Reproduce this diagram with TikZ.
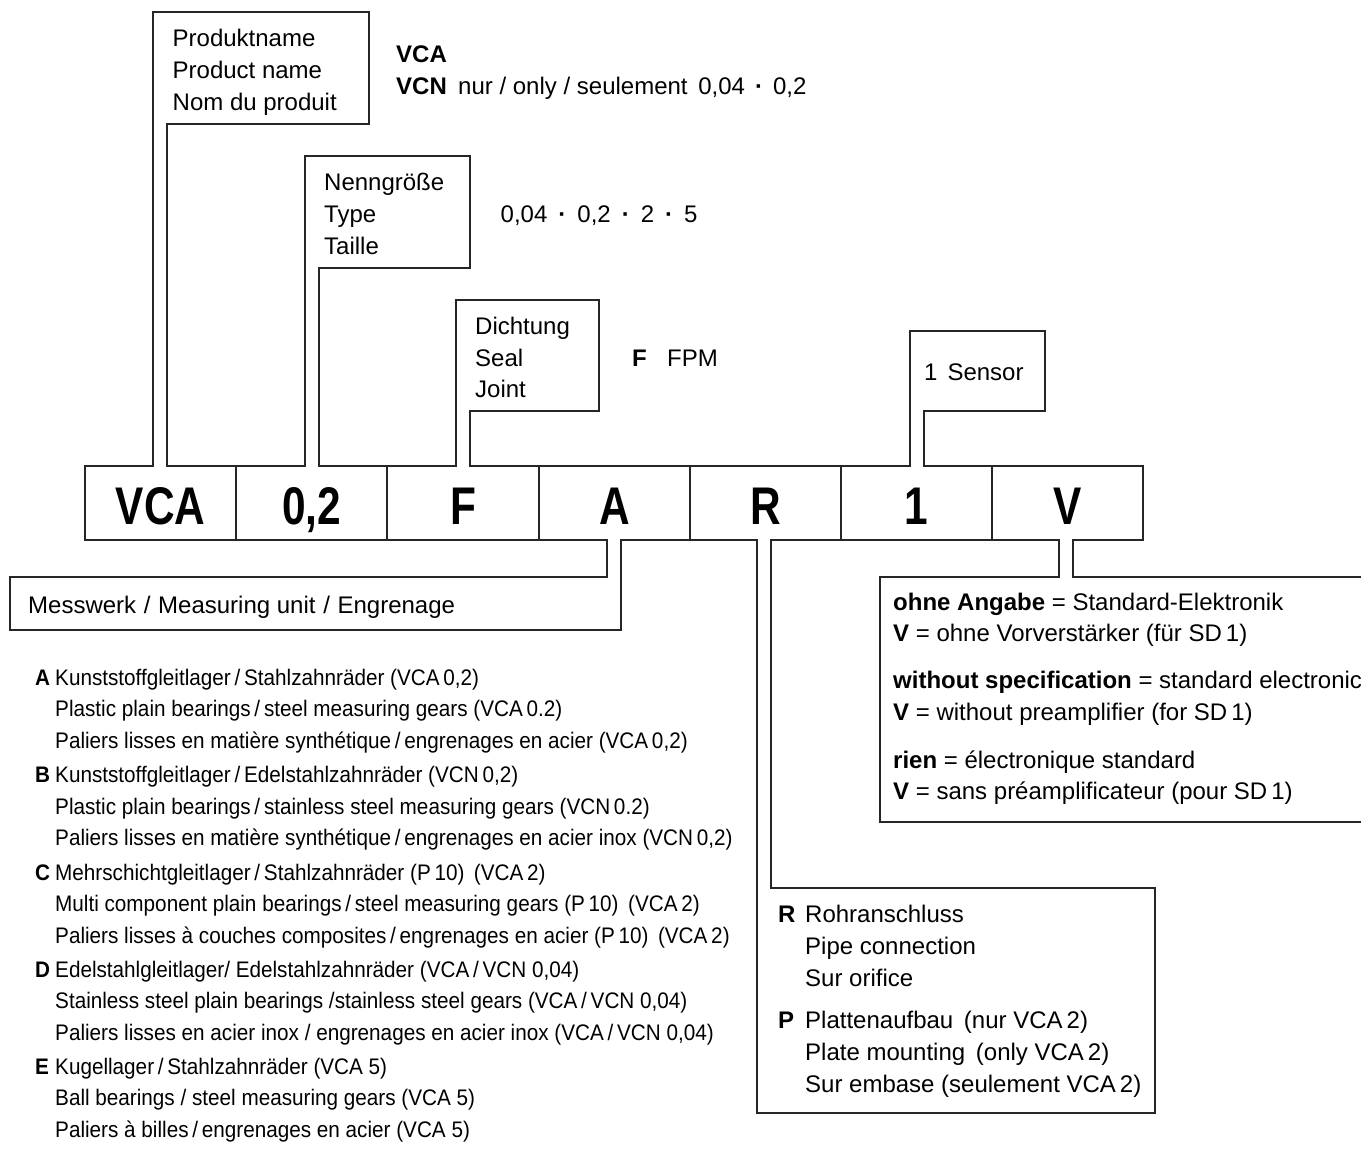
\documentclass[tikz,border=0pt]{standalone}
\usepackage{fontspec}
\setmainfont{Liberation Sans}
\newfontfamily\condfont[FakeStretch=0.92]{Liberation Sans}
\newfontfamily\boxfont[FakeStretch=0.8]{Liberation Sans}
\tikzset{
  outline/.style={draw=black!85, line width=1.3pt, line join=miter},
  txt/.style={anchor=base west, inner sep=0pt, font=\fontsize{24}{31}\selectfont},
  ltxt/.style={anchor=base west, inner sep=0pt, font=\condfont\fontsize{22.5}{30}\selectfont},
  codebox/.style={anchor=base, inner sep=0pt, font=\boxfont\bfseries\fontsize{53}{53}\selectfont},
}
\begin{document}
\begin{tikzpicture}[x=1pt,y=-1pt]
\useasboundingbox (0,0) rectangle (1361,1164);
% outline of code row with all callouts
\draw[outline] (85,466) -- (153,466) -- (153,12) -- (369,12) -- (369,124) -- (167,124) -- (167,466)
  -- (305,466) -- (305,156) -- (470,156) -- (470,268) -- (319,268) -- (319,466)
  -- (456,466) -- (456,300) -- (599,300) -- (599,411) -- (470,411) -- (470,466)
  -- (910,466) -- (910,331) -- (1045,331) -- (1045,411) -- (924,411) -- (924,466)
  -- (1143,466) -- (1143,540) -- (1073,540) -- (1073,577) -- (1375,577) -- (1375,822)
  -- (880,822) -- (880,577) -- (1059,577) -- (1059,540)
  -- (771,540) -- (771,888) -- (1155,888) -- (1155,1113) -- (757,1113) -- (757,540)
  -- (621,540) -- (621,630) -- (10,630) -- (10,577) -- (607,577) -- (607,540)
  -- (85,540) -- cycle;
\foreach \x/\n in {236/d1,387/d2,539/d3,690/d4,841/d5,992/d6}{
  \coordinate (\n t) at (\x,466); \coordinate (\n b) at (\x,540);
  \draw[outline] (\n t) -- (\n b);
}
% code letters
\node[codebox] (cVCA) at (160.5,524) {VCA};
\node[codebox] (cSize) at (311.5,524) {0,2};
\node[codebox] (cSeal) at (463,524) {F};
\node[codebox] (cUnit) at (614.5,524) {A};
\node[codebox] (cConn) at (765.5,524) {R};
\node[codebox] (cSens) at (916.5,524) {1};
\node[codebox] (cElec) at (1067.5,524) {V};
% product name
\node[txt] (pn1) at (172.5,46.5) {Produktname};
\node[txt] (pn2) at (172.5,78.5) {Product name};
\node[txt] (pn3) at (172.5,110.5) {Nom du produit};
\node[txt] (pv1) at (396,62.5) {\bfseries VCA};
\node[txt] (pv2) at (396,95) {\bfseries VCN};
\node[txt] (pv3) at (458,95) {nur / only / seulement \hspace{4pt}0,04\hspace{10pt}{\bfseries ·}\hspace{10pt}0,2};
% size
\node[txt] (sz1) at (324,190) {Nenngröße};
\node[txt] (sz2) at (324,222) {Type};
\node[txt] (sz3) at (324,254) {Taille};
\node[txt] (szv) at (500.5,222) {0,04\hspace{11pt}{\bfseries ·}\hspace{11pt}0,2\hspace{11pt}{\bfseries ·}\hspace{11pt}2\hspace{11pt}{\bfseries ·}\hspace{11pt}5};
% seal
\node[txt] (se1) at (475,334) {Dichtung};
\node[txt] (se2) at (475,366) {Seal};
\node[txt] (se3) at (475,397) {Joint};
\node[txt] (sev) at (632,366) {\bfseries F};
\node[txt] (sew) at (667,366) {FPM};
% sensor
\node[txt] (sn1) at (924,380) {1\hspace{10pt}Sensor};
% measuring unit
\node[txt] (mu) at (28,613) {Messwerk\hspace{1pt} / \hspace{1pt}Measuring unit\hspace{1pt} / \hspace{1pt}Engrenage};
% electronics
\node[txt] (el1) at (893,610) {\textbf{ohne Angabe} = Standard-Elektronik};
\node[txt] (el2) at (893,641) {\textbf{V} = ohne Vorverstärker (für SD\,1)};
\node[txt] (el3) at (893,688) {\textbf{without specification} = standard electronic};
\node[txt] (el4) at (893,720) {\textbf{V} = without preamplifier (for SD\,1)};
\node[txt] (el5) at (893,768) {\textbf{rien} = électronique standard};
\node[txt] (el6) at (893,799) {\textbf{V} = sans préamplificateur (pour SD\,1)};
% connection
\node[txt] (cnR) at (778,922) {\bfseries R};
\node[txt] (cn1) at (805,922) {Rohranschluss};
\node[txt] (cn2) at (805,954) {Pipe connection};
\node[txt] (cn3) at (805,986) {Sur orifice};
\node[txt] (cnP) at (778,1028) {\bfseries P};
\node[txt] (cn4) at (805,1028) {Plattenaufbau \,(nur VCA\,2)};
\node[txt] (cn5) at (805,1060) {Plate mounting \,(only VCA\,2)};
\node[txt] (cn6) at (805,1092) {Sur embase (seulement VCA\,2)};
% list
\node[ltxt] (lA) at (35,685) {\bfseries A};
\node[ltxt] (lA1) at (55,685) {Kunststoffgleitlager\,/\,Stahlzahnräder (VCA\,0,2)};
\node[ltxt] (lA2) at (55,716) {Plastic plain bearings\,/\,steel measuring gears (VCA\,0.2)};
\node[ltxt] (lA3) at (55,748) {Paliers lisses en matière synthétique\,/\,engrenages en acier (VCA\,0,2)};
\node[ltxt] (lB) at (35,782) {\bfseries B};
\node[ltxt] (lB1) at (55,782) {Kunststoffgleitlager\,/\,Edelstahlzahnräder (VCN\,0,2)};
\node[ltxt] (lB2) at (55,814) {Plastic plain bearings\,/\,stainless steel measuring gears (VCN\,0.2)};
\node[ltxt] (lB3) at (55,845) {Paliers lisses en matière synthétique\,/\,engrenages en acier inox (VCN\,0,2)};
\node[ltxt] (lC) at (35,880) {\bfseries C};
\node[ltxt] (lC1) at (55,880) {Mehrschichtgleitlager\,/\,Stahlzahnräder (P\,10) \,(VCA\,2)};
\node[ltxt] (lC2) at (55,911) {Multi component plain bearings\,/\,steel measuring gears (P\,10) \,(VCA\,2)};
\node[ltxt] (lC3) at (55,943) {Paliers lisses à couches composites\,/\,engrenages en acier (P\,10) \,(VCA\,2)};
\node[ltxt] (lD) at (35,977) {\bfseries D};
\node[ltxt] (lD1) at (55,977) {Edelstahlgleitlager/ Edelstahlzahnräder (VCA\,/\,VCN 0,04)};
\node[ltxt] (lD2) at (55,1008) {Stainless steel plain bearings /stainless steel gears (VCA\,/\,VCN 0,04)};
\node[ltxt] (lD3) at (55,1040) {Paliers lisses en acier inox / engrenages en acier inox (VCA\,/\,VCN 0,04)};
\node[ltxt] (lE) at (35,1074) {\bfseries E};
\node[ltxt] (lE1) at (55,1074) {Kugellager\,/\,Stahlzahnräder (VCA 5)};
\node[ltxt] (lE2) at (55,1105) {Ball bearings / steel measuring gears (VCA 5)};
\node[ltxt] (lE3) at (55,1137) {Paliers à billes\,/\,engrenages en acier (VCA 5)};
\end{tikzpicture}
\end{document}
